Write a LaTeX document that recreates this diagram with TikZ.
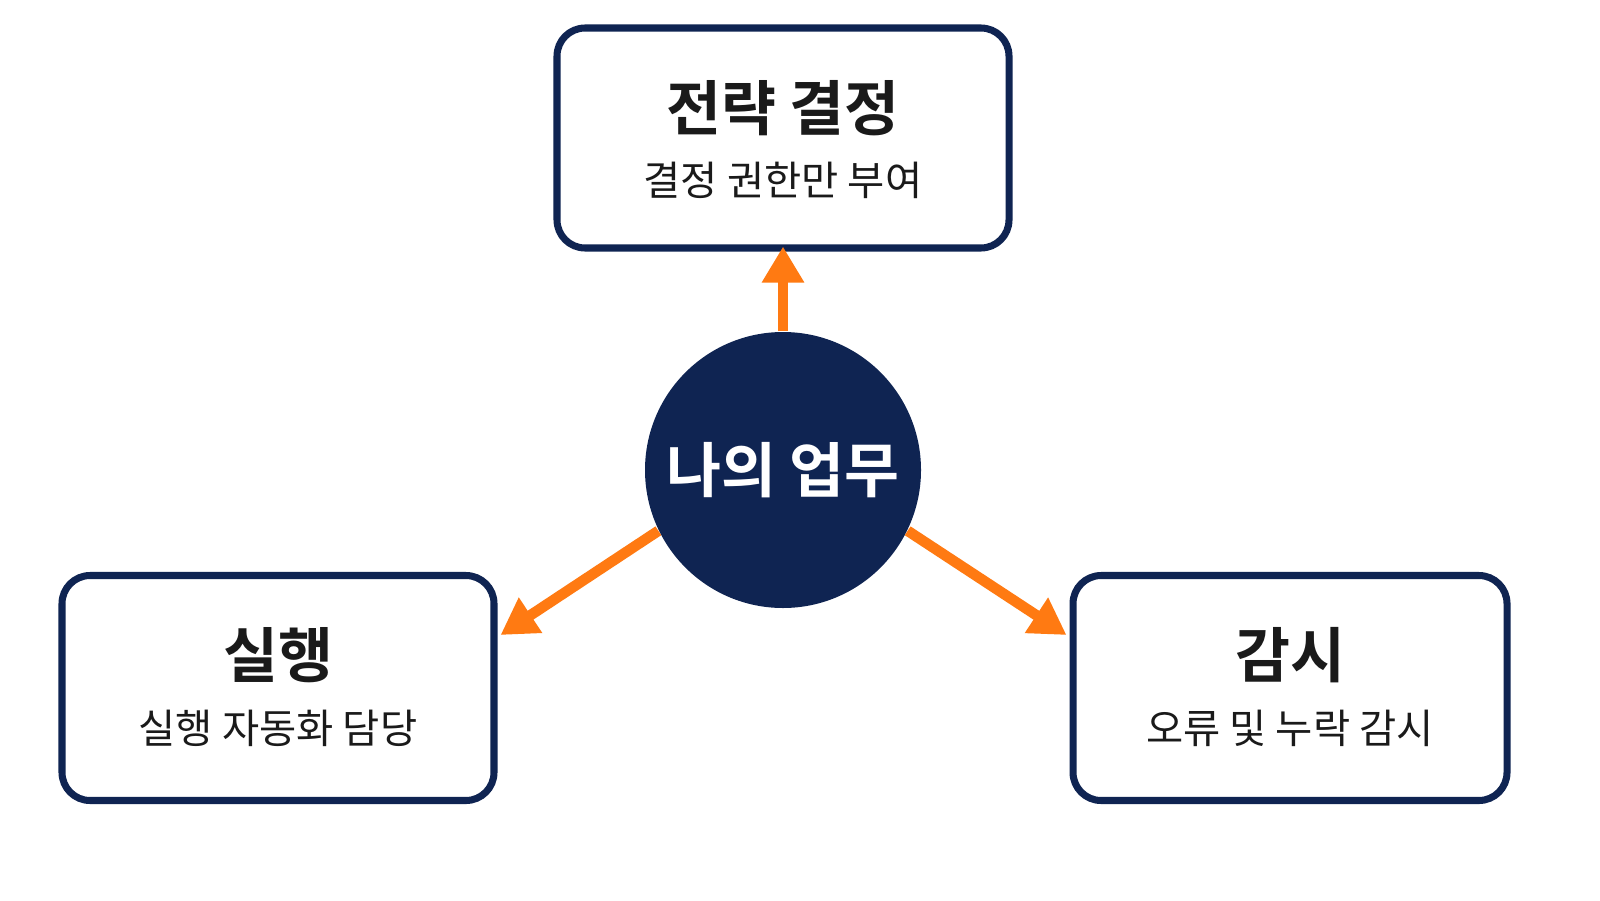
\documentclass[tikz,border=0pt]{standalone}
\usepackage{fontspec}
\newfontfamily\kr{Noto Sans CJK KR}
\newfontfamily\krb{Noto Sans CJK KR Bold}
\usetikzlibrary{arrows.meta,positioning}
\definecolor{navy}{HTML}{0F2452}
\definecolor{arroworange}{HTML}{FF7A12}
\definecolor{bodytext}{HTML}{1A1A1A}
\tikzset{
  rolebox/.style={draw=navy, line width=2pt, fill=white, rounded corners=8pt, minimum width=4.4cm, minimum height=2.2cm},
  roletitle/.style={font=\krb\fontsize{17}{20}\selectfont, color=bodytext},
  rolesub/.style={font=\kr\fontsize{11.5}{13}\selectfont, color=bodytext},
  flow/.style={-{Triangle[length=3.6mm,width=4mm]}, line width=3pt, arroworange}
}
\begin{document}
\begin{tikzpicture}
    \useasboundingbox[fill=white] (0,0) rectangle (16,9);

    % Centre
    \node[circle, fill=navy, minimum size=2.76cm, font=\krb\fontsize{17}{20}\selectfont, text=white] (me) at (7.83,4.30) {나의 업무};

    % Strategy
    \node[rolebox, minimum width=4.52cm] (strat) at (7.83,7.62) {};
    \node[roletitle] (strattitle) at (7.83,7.92) {전략 결정};
    \node[rolesub] (stratsub) at (7.83,7.20) {결정 권한만 부여};

    % Execution
    \node[rolebox, minimum width=4.32cm, minimum height=2.25cm] (exec) at (2.78,2.12) {};
    \node[roletitle] (exectitle) at (2.78,2.45) {실행};
    \node[rolesub] (execsub) at (2.78,1.72) {실행 자동화 담당};

    % Monitoring
    \node[rolebox, minimum width=4.34cm, minimum height=2.25cm] (watch) at (12.90,2.12) {};
    \node[roletitle] (watchtitle) at (12.90,2.45) {감시};
    \node[rolesub] (watchsub) at (12.90,1.72) {오류 및 누락 감시};

    % Arrows
    \draw[flow] (me.north) -- ([yshift=0.5mm]strat.south);
    \draw[flow] (me.206) -- ([xshift=0.3mm,yshift=5.3mm]exec.east);
    \draw[flow] (me.-26) -- ([xshift=-0.3mm,yshift=5.3mm]watch.west);
\end{tikzpicture}
\end{document}
